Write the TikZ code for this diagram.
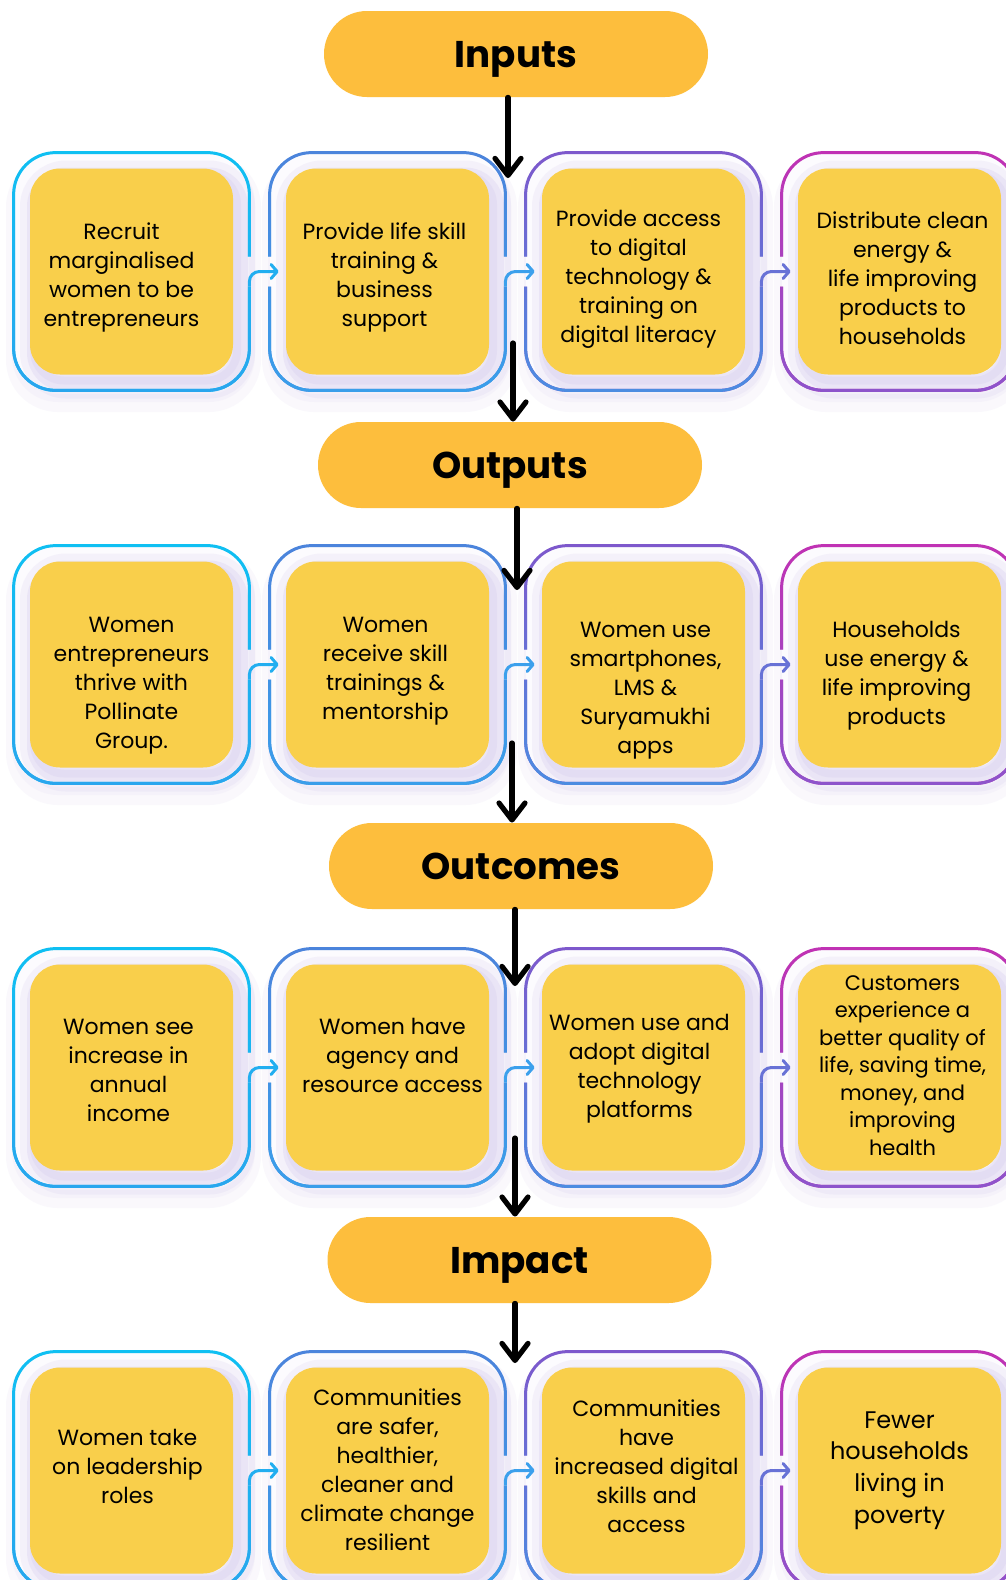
\documentclass[tikz,border=0pt]{standalone}
\usepackage{fontspec}
\setmainfont{Poppins}
\usetikzlibrary{arrows.meta,calc,fadings}
\definecolor{head}{HTML}{FDBE3D}
\definecolor{card}{HTML}{F9CF4B}
\definecolor{lav}{HTML}{D6CCEE}
\definecolor{pane}{HTML}{FCFBFE}
\definecolor{c1top}{HTML}{0FC0F3}
\definecolor{c1bot}{HTML}{2AA6EE}
\definecolor{c2top}{HTML}{4C84DC}
\definecolor{c2bot}{HTML}{3A9FEB}
\definecolor{c3top}{HTML}{7E58CC}
\definecolor{c3bot}{HTML}{4C8DE2}
\definecolor{c4top}{HTML}{C132B4}
\definecolor{c4bot}{HTML}{8D55CC}
\definecolor{l1}{HTML}{22AEF0}
\definecolor{l2}{HTML}{3CA0EC}
\definecolor{l3}{HTML}{6872D6}
\begin{document}
\begin{tikzpicture}[x=0.5pt, y=-0.5pt,
    head node/.style={fill=head, rounded corners=21.5pt, minimum width=192pt, minimum height=43pt,
      text depth=0pt, font=\fontsize{18.6}{22}\selectfont\bfseries},
    frame node/.style={fill=pane, rounded corners=21pt, minimum width=117.5pt, minimum height=118.5pt, inner sep=0pt,
      preaction={draw=lav, draw opacity=.12, line width=10pt, transform canvas={xshift=1pt, yshift=-6pt}},
      preaction={draw=lav, draw opacity=.12, line width=4pt, transform canvas={xshift=1pt, yshift=-4pt}}},
    card node/.style={fill=card, rounded corners=15pt, minimum width=101.5pt, minimum height=103pt, inner sep=0pt,
      preaction={draw=lav, draw opacity=.2, line width=16pt, transform canvas={xshift=3pt, yshift=-4pt}},
      preaction={draw=lav, draw opacity=.3, line width=9pt, transform canvas={xshift=3pt, yshift=-4pt}},
      preaction={draw=lav, draw opacity=.3, line width=4pt, transform canvas={xshift=2pt, yshift=-3pt}}},
    text node/.style={align=center, inner sep=0pt},
    frame line/.style={line width=1.5pt, rounded corners=21pt, draw=#1top, postaction={draw=#1bot, path fading=north}},
    link/.style={line width=1.5pt, rounded corners=5pt, draw=#1, -{Straight Barb[length=3pt,width=7pt,round]}},
    flow/.style={line width=2.6pt, line cap=round, -{Straight Barb[length=8.5pt,width=13pt,round]}}]
  \tikzstyle{every node}=[font=\fontsize{11}{14.5}\selectfont]

  \useasboundingbox (0,0) rectangle (1006,1580);
  \fill[white] (0,0) rectangle (1006,1580);
  \clip (0,0) rectangle (1006,1580);

  % frames and cards
  \foreach \row/\y in {1/271.5,2/664.5,3/1067.5,4/1470.5}
    \foreach \pos in {1,...,4}
      \node[frame node] (f\row\pos) at ({131.5+256*(\pos-1)},\y) {};
  \foreach \row in {1,...,4}
    \foreach \pos in {1,...,4}
      \node[card node] (c\row\pos) at (f\row\pos) {};

  % frame outlines with the links between them
  \foreach \row in {1,...,4} {
    \draw[frame line=c1] ($(f\row1.east)+(0,-15)$) -- (f\row1.north east) -- (f\row1.north west)
      -- (f\row1.south west) -- (f\row1.south east) -- ($(f\row1.east)+(0,15)$);
    \foreach \pos/\col in {2/c2,3/c3}
      \draw[frame line=\col] ($(f\row\pos.east)+(0,-15)$) -- (f\row\pos.north east) -- (f\row\pos.north west)
        -- ($(f\row\pos.west)+(0,-15)$)
        ($(f\row\pos.west)+(0,15)$) -- (f\row\pos.south west) -- (f\row\pos.south east)
        -- ($(f\row\pos.east)+(0,15)$);
    \draw[frame line=c4] ($(f\row4.west)+(0,15)$) -- (f\row4.south west) -- (f\row4.south east)
      -- (f\row4.north east) -- (f\row4.north west) -- ($(f\row4.west)+(0,-15)$);
    \foreach \pos/\nxt/\col in {1/2/l1,2/3/l2,3/4/l3}
      \draw[link=\col] ($(f\row\pos.east)+(0,15)$) -- (f\row\pos.east) -- ($(f\row\nxt.west)+(9,0)$);
  }

  % texts
  \node[text node] (b11) at ($(c11)+(-10,6)$) {Recruit\\marginalised\\women to be\\entrepreneurs};
  \node[text node] (b12) at ($(c12)+(-3,6)$) {Provide life skill\\training \&\\business\\support};
  \node[text node] (b13) at ($(c13)+(-5,8)$) {Provide access\\to digital\\technology \&\\training on\\digital literacy};
  \node[text node] (b14) at ($(c14)+(3,7)$) {Distribute clean\\energy \&\\life improving\\products to\\households};

  \node[text node] (b21) at ($(c21)+(0,21)$) {Women\\entrepreneurs\\thrive with\\Pollinate\\Group.};
  \node[text node] (b22) at ($(c22)+(-2,7)$) {Women\\receive skill\\trainings \&\\mentorship};
  \node[text node] (b23) at ($(c23)+(2,26)$) {Women use\\smartphones,\\LMS \&\\Suryamukhi\\apps};
  \node[text node] (b24) at ($(c24)+(-3,11)$) {Households\\use energy \&\\life improving\\products};

  \node[text node] (b31) at ($(c31)+(-3,3)$) {Women see\\increase in\\annual\\income};
  \node[text node] (b32) at ($(c32)+(5,-12)$) {Women have\\agency and\\resource access};
  \node[text node] (b33) at ($(c33)+(-4,1)$) {Women use and\\adopt digital\\technology\\platforms};
  \node[text node, font=\fontsize{10.5}{13.75}\selectfont] (b34) at ($(c34)+(3,-2)$)
    {Customers\\experience a\\better quality of\\life, saving time,\\money, and\\improving\\health};

  \node[text node] (b41) at ($(c41)+(-4,-4)$) {Women take\\on leadership\\roles};
  \node[text node] (b42) at ($(c42)+(0,-1)$) {Communities\\are safer,\\healthier,\\cleaner and\\climate change\\resilient};
  \node[text node] (b43) at ($(c43)+(3,-4)$) {Communities\\have\\increased digital\\skills and\\access};
  \node[text node, font=\fontsize{12}{15.9}\selectfont] (b44) at (c44) {Fewer\\households\\living in\\poverty};

  % headers
  \node[head node] (inp) at (516,54) {Inputs};
  \node[head node] (outp) at (510,465) {Outputs};
  \node[head node] (outc) at (521,866) {Outcomes};
  \node[head node] (imp) at (519.5,1260) {Impact};

  % arrows between stages
  \coordinate (a0) at (508,178);
  \coordinate (a1) at (513,343);
  \coordinate (a2) at (517,590);
  \coordinate (a3) at (512,743);
  \coordinate (a4) at (515,986);
  \coordinate (a5) at (515,1138);
  \coordinate (a6) at (515,1363);
  \draw[flow] (inp.south -| a0) -- (a0);
  \draw[flow] (a1) -- (a1 |- outp.north);
  \draw[flow] (outp.south -| a2) -- (a2);
  \draw[flow] (a3) -- (a3 |- outc.north);
  \draw[flow] (outc.south -| a4) -- (a4);
  \draw[flow] (a5) -- (a5 |- imp.north);
  \draw[flow] (imp.south -| a6) -- (a6);
\end{tikzpicture}
\end{document}
